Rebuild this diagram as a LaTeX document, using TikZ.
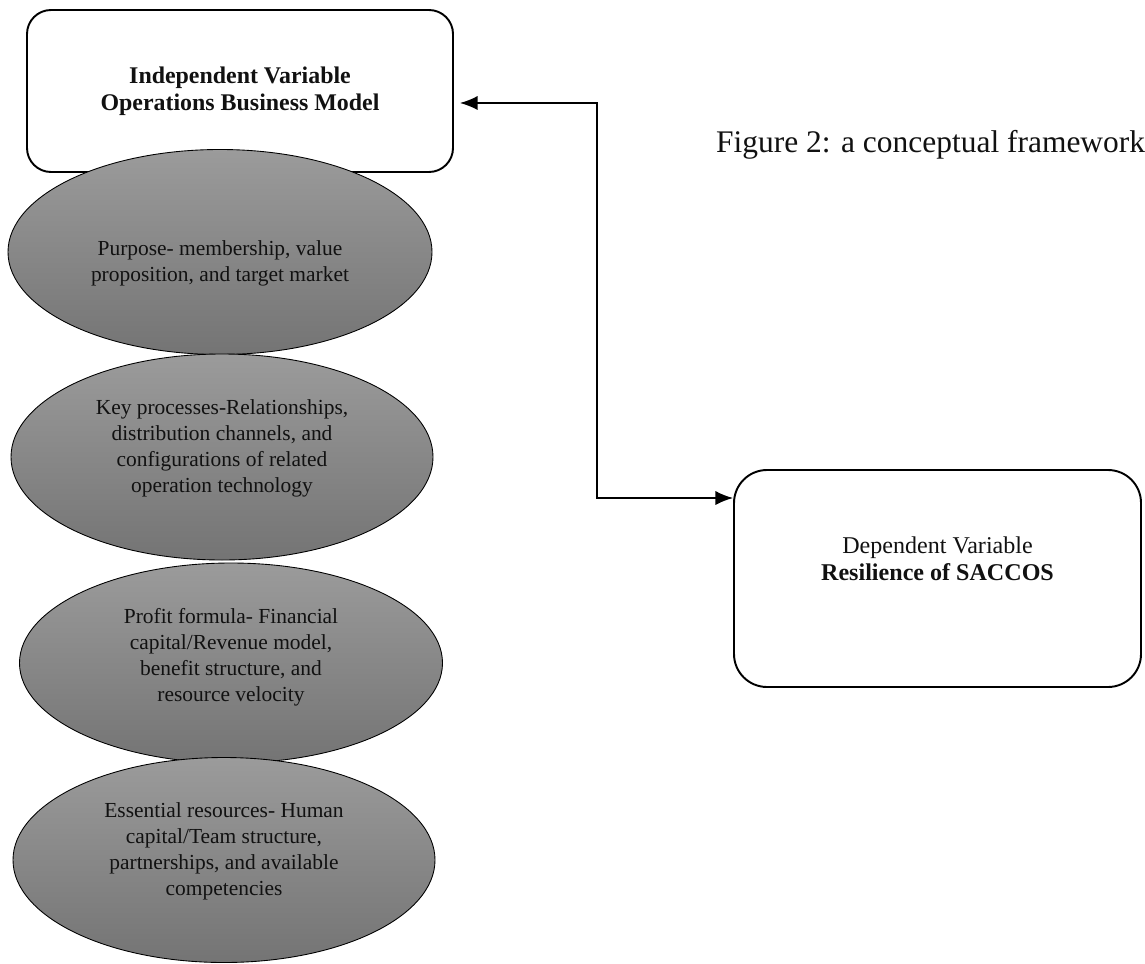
\documentclass[tikz,border=0pt]{standalone}
\usepackage{fontspec}
\setmainfont{Liberation Serif}
\usetikzlibrary{arrows.meta,calc,shapes.geometric}

\begin{document}
\begin{tikzpicture}[>={Latex[length=10pt,width=8pt]}, every node/.style={font=\fontsize{12.2}{14.8}\selectfont, text=Ink, align=center}, varbox/.style={draw, line width=1.1pt, inner sep=0pt}, part/.style={ellipse, draw, line width=.5pt, top color=PartTop, bottom color=PartBot, inner sep=0pt}]
\definecolor{PartTop}{HTML}{9B9B9B}\definecolor{PartBot}{HTML}{747474}\definecolor{Ink}{HTML}{111111}
\useasboundingbox (0,0) rectangle (22.9,-19.26);
% independent variable box
\node[varbox, rounded corners=.48cm, minimum width=8.52cm, minimum height=3.24cm, font=\fontsize{13.6}{15.2}\selectfont\bfseries] (ivbox) at (4.8,-1.82) {Independent Variable\\Operations Business Model};
% the four parts of the model
\node[part, minimum width=8.48cm, minimum height=4.1cm] (p1) at (4.4,-5.04) {};
\node (t1) at ($(p1)+(0,-.22)$) {Purpose- membership, value\\proposition, and target market};
\node[part, minimum width=8.44cm, minimum height=4.12cm] (p2) at (4.44,-9.14) {};
\node (t2) at ($(p2)+(0,.18)$) {Key processes-Relationships,\\distribution channels, and\\configurations of related\\operation technology};
\node[part, minimum width=8.46cm, minimum height=4cm] (p3) at (4.62,-13.26) {};
\node (t3) at ($(p3)+(0,.12)$) {Profit formula- Financial\\capital/Revenue model,\\benefit structure, and\\resource velocity};
\node[part, minimum width=8.44cm, minimum height=4.1cm] (p4) at (4.48,-17.2) {};
\node (t4) at ($(p4)+(0,.18)$) {Essential resources- Human\\capital/Team structure,\\partnerships, and available\\competencies};
% dependent variable box
\node[varbox, rounded corners=.66cm, minimum width=8.14cm, minimum height=4.34cm] (dvbox) at (18.75,-11.57) {};
\node[font=\fontsize{13.7}{15.4}\selectfont] (dvtext) at ($(dvbox)+(0,.4)$) {Dependent Variable\\\textbf{Resilience of SACCOS}};
\node[anchor=west, font=\fontsize{17.9}{21}\selectfont] (caption) at (14.2,-2.9) {Figure 2: a conceptual framework};
% link between the two variables
\coordinate (bendtop) at (11.94,-2.06); \coordinate (bendlow) at (11.94,-9.96);
\draw[<->, line width=.8pt, shorten <=.12cm] (ivbox.east |- bendtop) -- (bendtop) -- (bendlow) -- (dvbox.west |- bendlow);
\end{tikzpicture}
\end{document}
